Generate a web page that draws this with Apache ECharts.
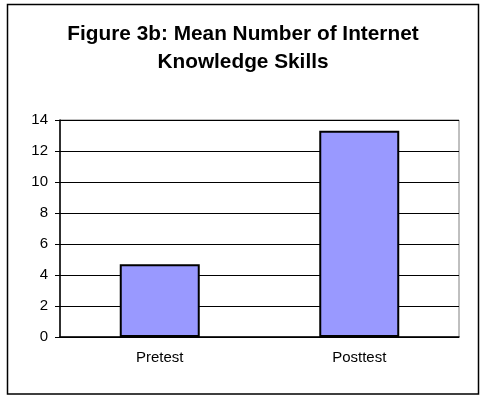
<!DOCTYPE html>
<html>
<head>
<meta charset="utf-8">
<script src="https://cdn.jsdelivr.net/npm/echarts@6/dist/echarts.min.js"></script>
<style>
  html, body { margin: 0; padding: 0; background: #fff; }
  #chart { width: 480px; height: 396px; }
</style>
</head>
<body>
<div id="chart"></div>
<script>
// Mean number of internet knowledge skills, before and after
const categories = ['Pretest', 'Posttest'];
const meanSkills = [4.7, 13.3];
const yTicks = { min: 0, max: 14, interval: 2 };

const font = 'Arial, "Liberation Sans", sans-serif';
const chart = echarts.init(document.getElementById('chart'), null, { renderer: 'canvas' });

chart.setOption({
  backgroundColor: '#ffffff',
  animation: false,
  graphic: [{
    type: 'rect',
    shape: { x: 7.5, y: 4.5, width: 471, height: 389.5 },
    style: { fill: 'none', stroke: '#000', lineWidth: 1.5 },
    z: 0
  }],
  title: {
    text: 'Figure 3b: Mean Number of Internet\nKnowledge Skills',
    left: 238,
    top: 15,
    textAlign: 'center',
    textStyle: {
      fontFamily: font,
      fontSize: 20.8,
      fontWeight: 'bold',
      color: '#000',
      lineHeight: 28
    }
  },
  grid: {
    left: 60,
    right: 21,
    top: 120,
    bottom: 59,
    show: true,
    borderColor: '#808080',
    borderWidth: 1,
    backgroundColor: '#fff'
  },
  xAxis: {
    type: 'category',
    data: categories,
    axisLine: { lineStyle: { color: '#000', width: 1.5 } },
    axisTick: { show: false },
    axisLabel: { fontFamily: font, fontSize: 15, color: '#000', margin: 13 }
  },
  yAxis: {
    type: 'value',
    min: yTicks.min,
    max: yTicks.max,
    interval: yTicks.interval,
    axisLine: { show: true, lineStyle: { color: '#000', width: 1.5 } },
    axisTick: { show: true, length: 5, lineStyle: { color: '#000' } },
    axisLabel: { fontFamily: font, fontSize: 15, color: '#000', margin: 12 },
    splitLine: { show: true, lineStyle: { color: '#000', width: 1 } }
  },
  series: [{
    type: 'bar',
    data: meanSkills,
    barWidth: 80,
    itemStyle: { color: '#9999FF', borderColor: '#000', borderWidth: 2 }
  }]
});
</script>
</body>
</html>
